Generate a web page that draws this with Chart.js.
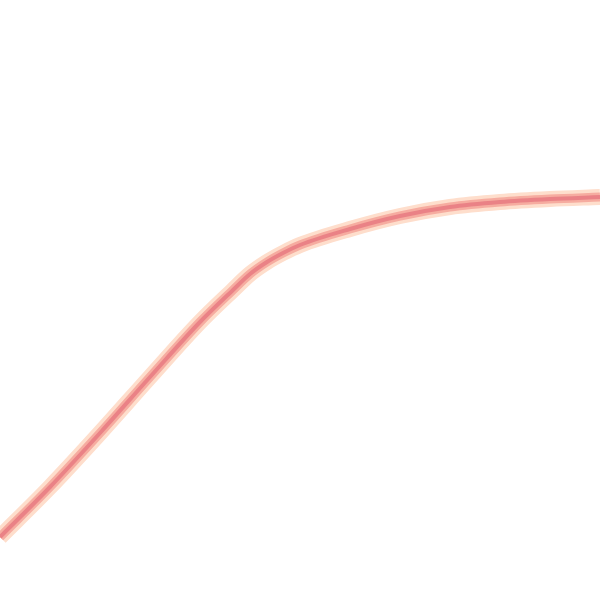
<!DOCTYPE html>
<html>
<head>
<meta charset="utf-8">
<script src="https://cdn.jsdelivr.net/npm/chart.js@4"></script>
<style>
  html, body { margin: 0; padding: 0; background: #fff; overflow: hidden; }
  #wrap { position: absolute; left: 0; top: 0; width: 600px; height: 600px; }
</style>
</head>
<body>
<div id="wrap"><canvas id="curve"></canvas></div>
<script>
// values
var xValues = [0, 50, 100, 150, 200, 233, 250, 267, 283, 300, 350, 400, 450, 500, 550, 600];
var yValues = [63, 113, 167, 223, 278, 310, 326, 338, 347, 355, 371, 384, 393, 398, 401, 403];

var points = xValues.map(function (x, i) { return { x: x, y: yValues[i] }; });

// same curve drawn three times: soft halo, mid glow, red core
function layer(width, colour) {
    return {
        data: points,
        fill: false,
        borderWidth: width,
        borderColor: colour,
        pointRadius: 0,
        cubicInterpolationMode: 'monotone'
    };
}

var ctx = document.getElementById("curve");
var curveChart = new Chart(ctx, {
    type: 'line',
    data: {
        datasets: [
            layer(4, "rgb(234,130,134)"),
            layer(9, "rgb(246,172,160)"),
            layer(16, "rgb(254,222,204)")
        ]
    },
    options: {
        responsive: true,
        maintainAspectRatio: false,
        animation: false,
        layout: { padding: 0 },
        plugins: { legend: { display: false }, tooltip: { enabled: false } },
        scales: {
            x: { type: 'linear', min: 0, max: 600, display: false },
            y: { type: 'linear', min: 0, max: 600, display: false }
        }
    }
});
</script>
</body>
</html>
